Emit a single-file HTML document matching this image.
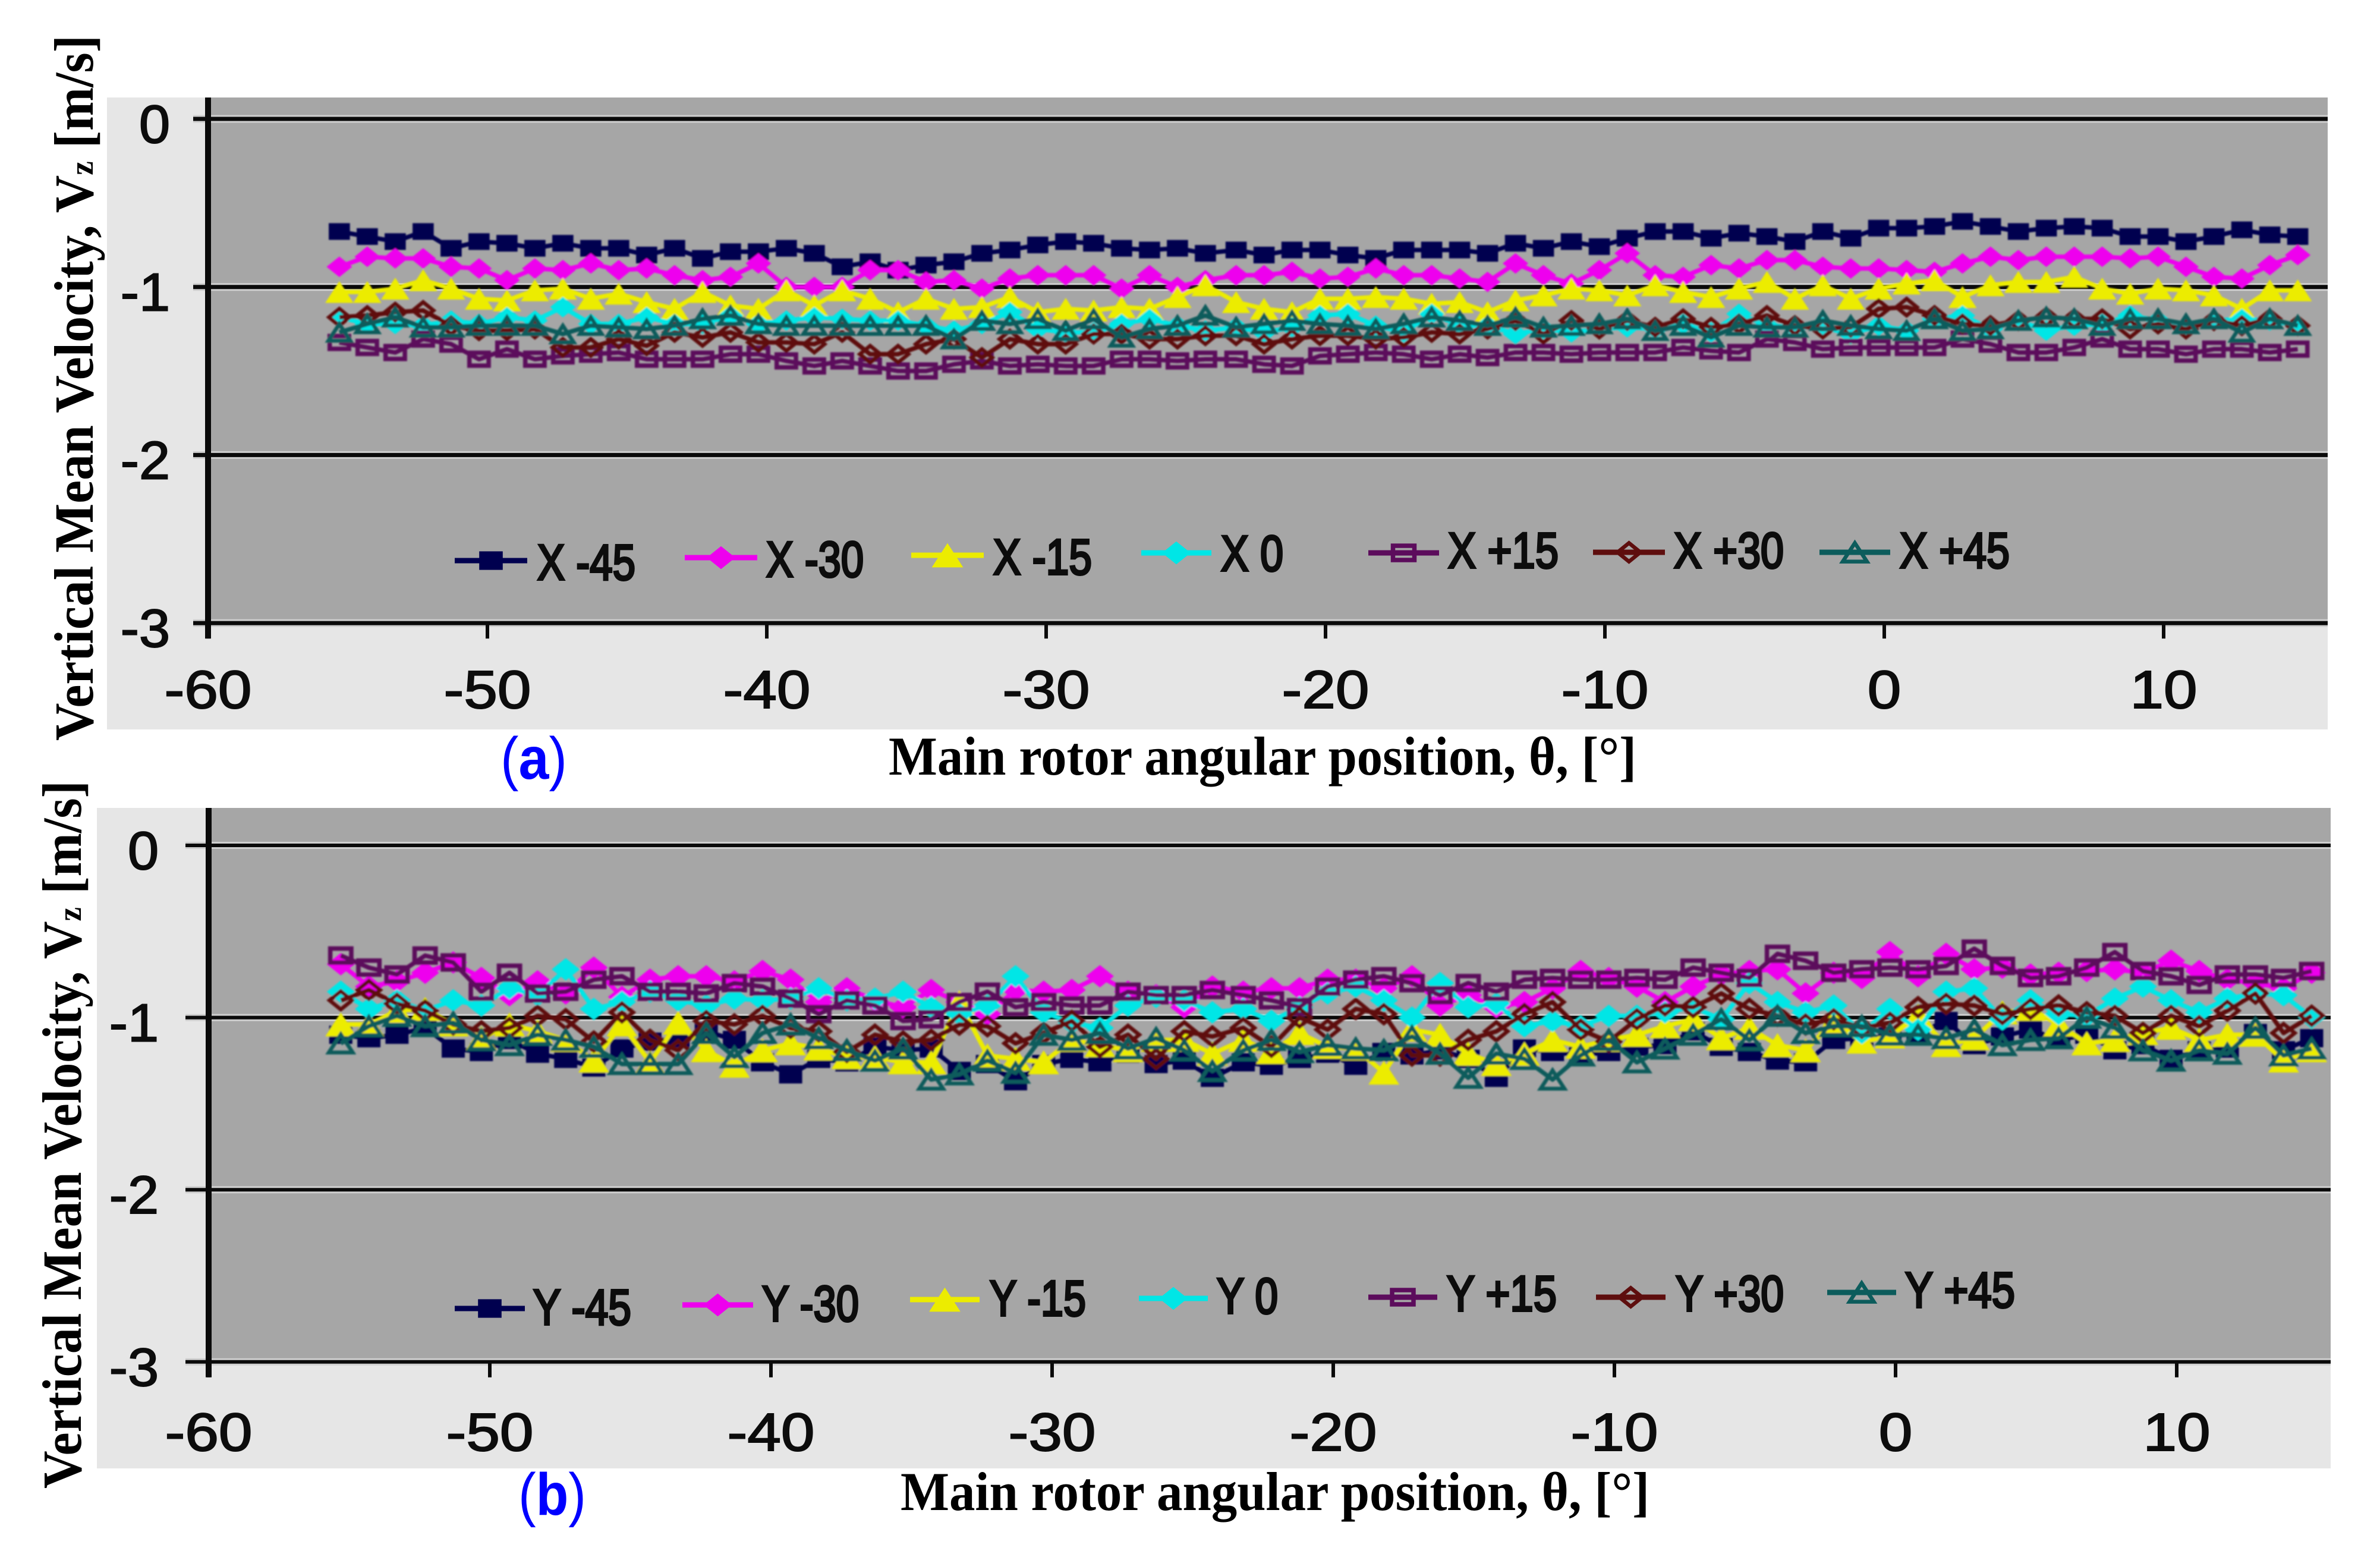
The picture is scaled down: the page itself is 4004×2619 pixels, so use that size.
<!DOCTYPE html>
<html lang="en">
<head>
<meta charset="utf-8">
<title>Vertical Mean Velocity vs Main Rotor Angular Position</title>
<style>
html,body{margin:0;padding:0;background:#fff;}
svg{display:block;}
.serif{font-family:"Liberation Serif",serif;font-weight:bold;fill:#000;}
.sans{font-family:"Liberation Sans",sans-serif;fill:#0c0c0c;}
</style>
</head>
<body>
<svg id="figure" xmlns="http://www.w3.org/2000/svg" width="4004" height="2619" viewBox="0 0 4004 2619">
  <defs>
    <filter id="soft" x="-2%" y="-10%" width="104%" height="120%"><feGaussianBlur stdDeviation="1.3"/></filter>
  </defs>
  <rect x="0" y="0" width="4004" height="2619" fill="#ffffff"/>

  <g id="panel-a">
    <rect x="180" y="164" width="3736" height="1063" fill="#e6e6e6"/>
    <rect x="350" y="164" width="3566" height="884" fill="#a6a6a6"/>
  </g>
  <text class="serif" font-size="93" transform="translate(156,1246) rotate(-90)" textLength="1187" lengthAdjust="spacingAndGlyphs">Vertical Mean Velocity, V<tspan font-size="56">z</tspan> [m/s]</text>
  <text class="serif" font-size="92" x="1495" y="1303" textLength="1258" lengthAdjust="spacingAndGlyphs">Main rotor angular position, θ, [°]</text>
  <text font-family="'Liberation Sans',sans-serif" font-size="100" fill="#0000ff" x="842" y="1310" textLength="112" lengthAdjust="spacingAndGlyphs">(<tspan font-weight="bold">a</tspan>)</text>

  <g id="panel-b">
    <rect x="163" y="1359" width="3758" height="1111" fill="#e6e6e6"/>
    <rect x="351" y="1359" width="3570" height="933" fill="#a6a6a6"/>
  </g>
  <text class="serif" font-size="93" transform="translate(136,2504) rotate(-90)" textLength="1191" lengthAdjust="spacingAndGlyphs">Vertical Mean Velocity, V<tspan font-size="56">z</tspan> [m/s]</text>
  <text class="serif" font-size="92" x="1515" y="2540" textLength="1260" lengthAdjust="spacingAndGlyphs">Main rotor angular position, θ, [°]</text>
  <text font-family="'Liberation Sans',sans-serif" font-size="100" fill="#0000ff" x="872" y="2548" textLength="114" lengthAdjust="spacingAndGlyphs">(<tspan font-weight="bold">b</tspan>)</text>
</svg>

<script>
// ---- shared axis data ----
var angles = [-55.3,-54.3,-53.3,-52.3,-51.3,-50.3,-49.3,-48.3,-47.3,-46.3,-45.3,-44.3,-43.3,-42.3,-41.3,-40.3,-39.3,-38.3,-37.3,-36.3,
-35.3,-34.3,-33.3,-32.3,-31.3,-30.3,-29.3,-28.3,-27.3,-26.3,-25.3,-24.3,-23.2,-22.2,-21.2,-20.2,-19.2,-18.2,-17.2,-16.2,
-15.2,-14.2,-13.2,-12.2,-11.2,-10.2,-9.2,-8.2,-7.2,-6.2,-5.2,-4.2,-3.2,-2.2,-1.2,-0.2,0.8,1.8,2.8,3.8,
4.8,5.8,6.8,7.8,8.8,9.8,10.8,11.8,12.8,13.8,14.8];
var xTicks = [-60,-50,-40,-30,-20,-10,0,10];
var yTicks = [0,-1,-2,-3];

// ---- panel (a) series ----
var xNames = ['X -45','X -30','X -15','X 0','X +15','X +30','X +45'];
var xM45 = [-.67,-.70,-.73,-.67,-.77,-.73,-.74,-.77,-.74,-.77,-.77,-.81,-.77,-.83,-.79,-.79,-.77,-.80,-.88,-.85,
-.90,-.87,-.85,-.80,-.78,-.75,-.73,-.74,-.77,-.78,-.77,-.80,-.78,-.81,-.78,-.78,-.81,-.83,-.78,-.78,-.78,-.80,
-.74,-.77,-.73,-.76,-.71,-.67,-.67,-.71,-.68,-.70,-.73,-.67,-.71,-.65,-.65,-.64,-.61,-.64,-.67,-.65,-.64,
-.65,-.70,-.70,-.73,-.70,-.66,-.69,-.70];
var xM30 = [-.88,-.82,-.83,-.83,-.88,-.89,-.96,-.89,-.90,-.86,-.90,-.89,-.93,-.96,-.94,-.86,-1.0,-1.0,-1.0,-.90,
-.90,-.97,-.96,-1.01,-.95,-.93,-.93,-.93,-1.01,-.93,-1.0,-.96,-.93,-.93,-.91,-.95,-.94,-.89,-.93,-.93,-.95,-.97,
-.86,-.93,-.98,-.90,-.80,-.93,-.94,-.87,-.89,-.84,-.84,-.88,-.89,-.89,-.90,-.91,-.86,-.82,-.84,-.82,-.82,
-.82,-.83,-.82,-.88,-.94,-.95,-.87,-.81];
var xM15 = [-1.03,-1.03,-1.01,-.96,-1.01,-1.07,-1.08,-1.02,-1.01,-1.07,-1.04,-1.09,-1.13,-1.03,-1.11,-1.13,-1.02,-1.11,-1.02,-1.07,
-1.15,-1.07,-1.13,-1.12,-1.06,-1.15,-1.13,-1.14,-1.12,-1.13,-1.06,-.99,-1.09,-1.13,-1.15,-1.07,-1.07,-1.06,-1.07,-1.10,-1.09,-1.15,
-1.08,-1.05,-1.01,-1.02,-1.05,-.99,-1.03,-1.06,-1.01,-.97,-1.07,-.99,-1.07,-1.01,-.98,-.96,-1.06,-.99,-.97,-.97,-.94,
-1.01,-1.04,-1.01,-1.02,-1.05,-1.13,-1.02,-1.02];
var x0 = [-1.18,-1.22,-1.22,-1.23,-1.20,-1.22,-1.18,-1.20,-1.12,-1.22,-1.22,-1.18,-1.22,-1.22,-1.17,-1.22,-1.20,-1.18,-1.19,-1.20,
-1.20,-1.23,-1.26,-1.22,-1.15,-1.25,-1.27,-1.27,-1.22,-1.19,-1.23,-1.26,-1.24,-1.27,-1.24,-1.17,-1.16,-1.23,-1.27,-1.16,-1.23,-1.23,
-1.28,-1.25,-1.27,-1.25,-1.24,-1.25,-1.22,-1.27,-1.16,-1.23,-1.24,-1.24,-1.28,-1.23,-1.26,-1.19,-1.17,-1.25,-1.20,-1.26,-1.23,
-1.22,-1.17,-1.20,-1.24,-1.20,-1.19,-1.20,-1.23];
var xP15 = [-1.33,-1.36,-1.39,-1.31,-1.34,-1.43,-1.37,-1.43,-1.41,-1.40,-1.39,-1.43,-1.43,-1.43,-1.40,-1.40,-1.44,-1.47,-1.44,-1.47,
-1.50,-1.50,-1.46,-1.44,-1.47,-1.46,-1.47,-1.47,-1.43,-1.43,-1.44,-1.43,-1.43,-1.46,-1.47,-1.41,-1.40,-1.39,-1.40,-1.43,-1.40,-1.42,
-1.39,-1.39,-1.40,-1.39,-1.39,-1.39,-1.36,-1.38,-1.39,-1.31,-1.33,-1.37,-1.36,-1.36,-1.36,-1.36,-1.31,-1.34,-1.39,-1.39,-1.36,
-1.31,-1.37,-1.37,-1.40,-1.37,-1.37,-1.39,-1.37];
var xP30 = [-1.18,-1.17,-1.15,-1.14,-1.23,-1.26,-1.26,-1.25,-1.36,-1.36,-1.31,-1.35,-1.27,-1.30,-1.27,-1.33,-1.33,-1.34,-1.27,-1.40,
-1.40,-1.34,-1.31,-1.42,-1.31,-1.34,-1.34,-1.28,-1.28,-1.31,-1.31,-1.29,-1.29,-1.34,-1.31,-1.29,-1.29,-1.31,-1.30,-1.27,-1.28,-1.25,
-1.20,-1.28,-1.20,-1.25,-1.20,-1.24,-1.19,-1.24,-1.22,-1.17,-1.23,-1.25,-1.24,-1.13,-1.12,-1.17,-1.22,-1.23,-1.20,-1.18,-1.19,
-1.19,-1.25,-1.22,-1.25,-1.20,-1.23,-1.19,-1.23];
var xP45 = [-1.27,-1.22,-1.18,-1.24,-1.24,-1.23,-1.23,-1.23,-1.28,-1.23,-1.24,-1.25,-1.23,-1.19,-1.17,-1.22,-1.23,-1.23,-1.23,-1.23,
-1.23,-1.23,-1.31,-1.20,-1.22,-1.19,-1.26,-1.19,-1.30,-1.25,-1.23,-1.17,-1.24,-1.22,-1.20,-1.22,-1.23,-1.25,-1.22,-1.18,-1.20,-1.23,
-1.18,-1.24,-1.23,-1.22,-1.19,-1.26,-1.23,-1.30,-1.23,-1.24,-1.24,-1.20,-1.23,-1.25,-1.26,-1.19,-1.26,-1.25,-1.20,-1.18,-1.19,
-1.23,-1.19,-1.19,-1.22,-1.19,-1.27,-1.19,-1.23];

// ---- panel (b) series ----
var yNames = ['Y -45','Y -30','Y -15','Y 0','Y +15','Y +30','Y +45'];
var yM45 = [-1.10,-1.12,-1.10,-1.06,-1.18,-1.20,-1.13,-1.21,-1.24,-1.29,-1.18,-1.14,-1.12,-1.08,-1.13,-1.26,-1.33,-1.24,-1.26,-1.17,
-1.19,-1.18,-1.31,-1.27,-1.37,-1.27,-1.24,-1.26,-1.21,-1.27,-1.25,-1.35,-1.26,-1.28,-1.24,-1.21,-1.28,-1.20,-1.22,-1.19,-1.24,
-1.35,-1.18,-1.20,-1.22,-1.20,-1.17,-1.16,-1.08,-1.17,-1.20,-1.25,-1.26,-1.13,-1.12,-1.11,-1.09,-1.02,-1.16,-1.11,-1.07,-1.13,
-1.10,-1.19,-1.16,-1.24,-1.19,-1.18,-1.09,-1.19,-1.12];
var yM30 = [-.69,-.82,-.79,-.74,-.68,-.77,-.87,-.79,-.86,-.71,-.88,-.78,-.76,-.76,-.79,-.73,-.78,-.91,-.83,-.90,
-.94,-.84,-.91,-.98,-.84,-.85,-.84,-.76,-.85,-.87,-.94,-.82,-.85,-.83,-.83,-.78,-.78,-.83,-.76,-.93,-.87,
-.94,-.91,-.83,-.73,-.77,-.82,-.91,-.82,-.75,-.73,-.72,-.86,-.74,-.77,-.62,-.76,-.63,-.72,-.71,-.75,-.74,
-.73,-.72,-.74,-.67,-.73,-.78,-.80,-.83,-.74];
var yM15 = [-1.04,-1.04,-.96,-.95,-1.04,-1.12,-1.04,-1.08,-1.13,-1.25,-1.04,-1.26,-1.03,-1.19,-1.28,-1.19,-1.15,-1.18,-1.23,-1.23,
-1.26,-1.26,-.91,-1.22,-1.24,-1.26,-1.13,-1.16,-1.19,-1.13,-1.13,-1.21,-1.13,-1.20,-1.09,-1.17,-1.18,-1.32,-1.07,-1.10,-1.21,
-1.27,-1.21,-1.13,-1.17,-1.13,-1.10,-1.05,-1.01,-1.12,-1.06,-1.16,-1.19,-1.02,-1.14,-1.11,-.99,-1.16,-1.12,-.97,-.95,-1.04,
-1.15,-1.13,-1.09,-1.06,-1.13,-1.10,-1.10,-1.25,-1.19];
var y0s = [-.85,-.95,-.90,-.96,-.90,-.93,-.83,-.87,-.72,-.95,-.91,-.85,-.90,-.93,-.89,-.90,-.89,-.83,-.90,-.89,
-.85,-.94,-.98,-.93,-.76,-.97,-1.03,-1.06,-.93,-.88,-.90,-.97,-.95,-1.02,-.94,-.86,-.82,-.90,-1.00,-.80,-.94,
-.92,-1.05,-1.02,-1.05,-.99,-.99,-.97,-.94,-1.01,-.80,-.91,-.97,-.93,-1.09,-.95,-1.07,-.85,-.83,-1.01,-.90,-.98,
-.99,-.89,-.82,-.90,-.97,-.89,-.86,-.87,-1.00];
var yP15 = [-.64,-.71,-.75,-.64,-.68,-.85,-.74,-.86,-.85,-.78,-.76,-.85,-.85,-.86,-.80,-.82,-.89,-.98,-.90,-.93,
-1.02,-1.01,-.91,-.85,-.94,-.91,-.93,-.93,-.85,-.87,-.87,-.84,-.87,-.90,-.94,-.82,-.78,-.76,-.80,-.87,-.80,
-.85,-.78,-.77,-.78,-.78,-.77,-.78,-.71,-.74,-.77,-.63,-.67,-.74,-.72,-.71,-.72,-.70,-.60,-.70,-.77,-.76,
-.71,-.62,-.73,-.76,-.81,-.75,-.75,-.77,-.73];
var yP30 = [-.90,-.84,-.92,-.96,-1.04,-1.08,-1.06,-.99,-1.01,-1.14,-.97,-1.13,-1.19,-1.02,-1.04,-.99,-1.06,-1.08,-1.20,-1.10,
-1.14,-1.13,-1.04,-1.05,-1.15,-1.09,-1.02,-1.17,-1.10,-1.24,-1.08,-1.11,-1.06,-1.17,-1.00,-1.07,-.95,-.98,-1.22,-1.22,-1.13,
-1.08,-.98,-.91,-1.07,-1.14,-1.01,-.93,-.94,-.86,-.95,-.99,-1.04,-1.01,-1.06,-1.03,-.94,-.92,-.93,-.98,-.95,-.93,
-.97,-.99,-1.09,-.99,-1.05,-.96,-.86,-1.09,-.99];
var yP45 = [-1.15,-1.05,-.99,-1.05,-1.03,-1.13,-1.16,-1.10,-1.13,-1.17,-1.27,-1.27,-1.27,-1.09,-1.23,-1.09,-1.04,-1.12,-1.19,-1.25,
-1.18,-1.36,-1.33,-1.25,-1.32,-1.10,-1.13,-1.09,-1.18,-1.12,-1.19,-1.31,-1.19,-1.13,-1.20,-1.16,-1.18,-1.19,-1.11,-1.21,-1.35,
-1.21,-1.24,-1.36,-1.22,-1.13,-1.26,-1.18,-1.10,-1.01,-1.13,-.99,-1.09,-1.05,-1.05,-1.10,-1.10,-1.12,-1.07,-1.16,-1.13,-1.12,
-1.00,-1.06,-1.19,-1.25,-1.19,-1.21,-1.06,-1.22,-1.18];

var seriesColors = ['#00004f','#ee00ee','#ecec00','#00e6e6','#5c0c5c','#5e0e0e','#0c5c5c'];
var seriesShapes = ['square','diamond','triangle','diamond','hollowSquare','hollowDiamond','hollowTriangle'];

var SVGNS = 'http://www.w3.org/2000/svg';
var root = document.getElementById('figure');

function mk(tag, attrs, parent) {
  var el = document.createElementNS(SVGNS, tag);
  for (var k in attrs) { el.setAttribute(k, attrs[k]); }
  parent.appendChild(el);
  return el;
}

function drawMarker(parent, shape, cx, cy, color, scale) {
  var el;
  if (shape === 'square' || shape === 'hollowSquare') {
    var hollow = shape === 'hollowSquare';
    var w = (hollow ? 30 : 33) * scale, h = (hollow ? 20 : 26) * scale;
    el = mk('rect', {x: cx - w / 2, y: cy - h / 2, width: w, height: h,
      fill: hollow ? 'none' : color, stroke: hollow ? color : 'none', 'stroke-width': hollow ? 7.5 : 0}, parent);
  } else if (shape === 'diamond' || shape === 'hollowDiamond') {
    var hd = shape === 'hollowDiamond';
    var dw = (hd ? 32 : 40) * scale / 2, dh = (hd ? 26 : 32) * scale / 2;
    el = mk('polygon', {points: [cx, cy - dh, cx + dw, cy, cx, cy + dh, cx - dw, cy].join(' '),
      fill: hd ? 'none' : color, stroke: hd ? color : 'none', 'stroke-width': hd ? 6.5 : 0}, parent);
  } else {
    var ht = shape === 'hollowTriangle';
    var tw = (ht ? 34 : 44) * scale / 2, th = (ht ? 26 : 34) * scale / 2;
    el = mk('polygon', {points: [cx, cy - th, cx + tw, cy + th, cx - tw, cy + th].join(' '),
      fill: ht ? 'none' : color, stroke: ht ? color : 'none', 'stroke-width': ht ? 6.5 : 0}, parent);
  }
  return el;
}

function buildPanel(p) {
  var xScale = function (v) { return p.xOrigin + (v + 60) * p.xUnit; };
  var yScale = function (v) { return p.yOrigin - v * p.yUnit; };
  var g = document.getElementById(p.id);

  // gridlines
  yTicks.forEach(function (t) {
    var y = yScale(t);
    var halo = mk('line', {x1: p.gridLeft, x2: p.right, y1: y, y2: y, stroke: '#cfcfcf', 'stroke-width': p.gridW + 6}, g);
    
    
    var line = mk('line', {x1: p.gridLeft, x2: p.right, y1: y, y2: y, stroke: '#0a0a0a', 'stroke-width': p.gridW}, g);
    
    
    var label = mk('text', {'class': 'sans', 'font-size': 90, 'text-anchor': 'end', stroke: '#0c0c0c', 'stroke-width': 2,
      transform: 'translate(' + p.yLabelRight + ',' + (y + 40) + ') scale(1.04,1)'}, g);
    label.textContent = String(t);
    
    
  });

  // x ticks
  xTicks.forEach(function (t) {
    var x = xScale(t);
    var tick = mk('line', {x1: x, x2: x, y1: p.yOrigin + 3 * p.yUnit, y2: p.yOrigin + 3 * p.yUnit + 26, stroke: '#0a0a0a', 'stroke-width': 6}, g);
    
    
    var label = mk('text', {'class': 'sans', 'font-size': 90, 'text-anchor': 'middle', stroke: '#0c0c0c', 'stroke-width': 2,
      transform: 'translate(' + x + ',' + p.xLabelBase + ') scale(1.13,1)'}, g);
    label.textContent = String(t);
    
    
  });

  // y axis
  var axis = mk('line', {x1: p.xOrigin, x2: p.xOrigin, y1: p.top, y2: p.yOrigin + 3 * p.yUnit + 26, stroke: '#0a0a0a', 'stroke-width': 10}, g);
  
  

  // series
  var marks = mk('g', {filter: 'url(#soft)'}, g);
  
  
  p.series.forEach(function (values, si) {
    var name = p.names[si];
    var color = seriesColors[si];
    var shape = seriesShapes[si];
    var slug = name.toLowerCase().replace(' ', '').replace('+', 'plus').replace('-', 'minus');
    var pts = values.map(function (v, i) { return xScale(angles[i]) + ',' + yScale(v); }).join(' ');
    var poly = mk('polyline', {points: pts, fill: 'none', stroke: color, 'stroke-width': 7.5, 'stroke-linejoin': 'round'}, marks);
    
    
    values.forEach(function (v, i) {
      var m = drawMarker(marks, shape, xScale(angles[i]), yScale(v), color, p.markScale);
      
      
    });
  });
}

function legendEntry(parentId, key, si, name, x1, x2, ly, tx, tx2, base) {
  var g = document.getElementById(parentId);
  var entry = mk('g', {}, g);
  
  
  var line = mk('line', {x1: x1, x2: x2, y1: ly, y2: ly, stroke: seriesColors[si], 'stroke-width': 9}, entry);
  
  
  var m = drawMarker(entry, seriesShapes[si], (x1 + x2) / 2, ly, seriesColors[si], 1.2);
  
  
  var t = mk('text', {'class': 'sans', 'font-size': 84, x: tx, y: base, textLength: tx2 - tx, lengthAdjust: 'spacingAndGlyphs', stroke: '#0c0c0c', 'stroke-width': 4}, entry);
  t.textContent = name;
  
  
}

buildPanel({id: 'panel-a', key: 'panel-a', names: xNames, series: [xM45, xM30, xM15, x0, xP15, xP30, xP45],
  xOrigin: 350, xUnit: 47, yOrigin: 200, yUnit: 282.7, gridLeft: 325, right: 3916, top: 164,
  gridW: 7, yLabelRight: 286, xLabelBase: 1191, markScale: 1.08});
buildPanel({id: 'panel-b', key: 'panel-b', names: yNames, series: [yM45, yM30, yM15, y0s, yP15, yP30, yP45],
  xOrigin: 351, xUnit: 47.3, yOrigin: 1422, yUnit: 289.6, gridLeft: 312, right: 3921, top: 1359,
  gridW: 6, yLabelRight: 267, xLabelBase: 2440, markScale: 1.18});

legendEntry('panel-a', 'panel-a', 0, xNames[0], 765, 887, 943, 904, 1069, 975);
legendEntry('panel-a', 'panel-a', 1, xNames[1], 1152, 1274, 938, 1289, 1453, 970);
legendEntry('panel-a', 'panel-a', 2, xNames[2], 1533, 1655, 934, 1671, 1837, 966);
legendEntry('panel-a', 'panel-a', 3, xNames[3], 1920, 2038, 930, 2054, 2159, 960);
legendEntry('panel-a', 'panel-a', 4, xNames[4], 2302, 2421, 930, 2436, 2622, 955);
legendEntry('panel-a', 'panel-a', 5, xNames[5], 2680, 2801, 929, 2816, 3001, 955);
legendEntry('panel-a', 'panel-a', 6, xNames[6], 3061, 3180, 929, 3196, 3381, 955);

legendEntry('panel-b', 'panel-b', 0, yNames[0], 765, 883, 2201, 897, 1062, 2228);
legendEntry('panel-b', 'panel-b', 1, yNames[1], 1148, 1267, 2195, 1282, 1445, 2222);
legendEntry('panel-b', 'panel-b', 2, yNames[2], 1531, 1648, 2186, 1665, 1827, 2213);
legendEntry('panel-b', 'panel-b', 3, yNames[3], 1916, 2032, 2184, 2047, 2150, 2209);
legendEntry('panel-b', 'panel-b', 4, yNames[4], 2302, 2418, 2182, 2434, 2619, 2205);
legendEntry('panel-b', 'panel-b', 5, yNames[5], 2685, 2802, 2182, 2819, 3001, 2205);
legendEntry('panel-b', 'panel-b', 6, yNames[6], 3074, 3190, 2174, 3205, 3390, 2199);
</script>
</body>
</html>
